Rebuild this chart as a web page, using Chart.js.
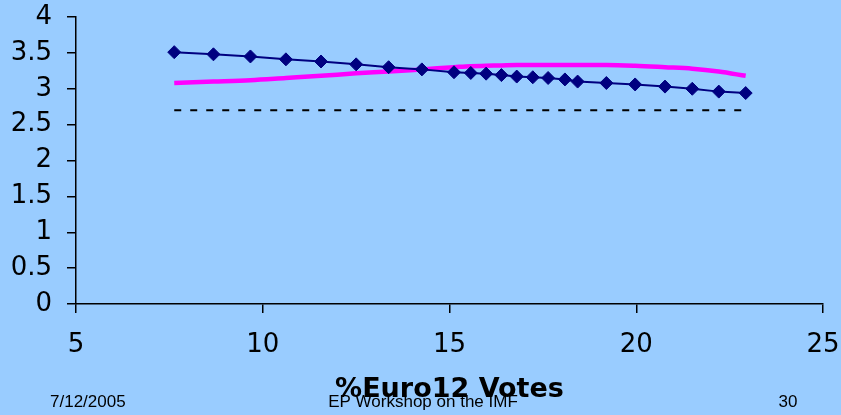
<!DOCTYPE html>
<html>
<head>
<meta charset="utf-8">
<script src="https://cdn.jsdelivr.net/npm/chart.js@4/dist/chart.umd.min.js"></script>
<style>
  html, body { margin: 0; padding: 0; background: #99ccff; }
  #wrap { position: relative; width: 841px; height: 415px; }
</style>
</head>
<body>
<div id="wrap"><canvas id="chart" width="841" height="415"></canvas></div>
<script>
// %Euro12 votes (x) and the three plotted series
const euroVotes = [7.63, 8.68, 9.67, 10.62, 11.56, 12.50, 13.37, 14.26, 15.12, 15.57, 15.98,
                   16.39, 16.80, 17.23, 17.64, 18.09, 18.43, 19.20, 19.97, 20.77, 21.50, 22.21, 22.93];
const markerSeries = [3.51, 3.48, 3.45, 3.41, 3.38, 3.34, 3.30, 3.27, 3.23, 3.22, 3.21,
                      3.19, 3.17, 3.16, 3.15, 3.13, 3.10, 3.08, 3.06, 3.03, 3.00, 2.96, 2.94];
const curveSeries = [3.08, 3.10, 3.12, 3.15, 3.18, 3.215, 3.24, 3.27, 3.30, 3.315, 3.32,
                     3.325, 3.33, 3.33, 3.33, 3.33, 3.33, 3.33, 3.32, 3.30, 3.28, 3.24, 3.18];
const flatX = [7.63, 22.93];
const flatY = [2.7, 2.7];

const xTicks = [5, 10, 15, 20, 25];
const yTicks = [0, 0.5, 1, 1.5, 2, 2.5, 3, 3.5, 4];

const axisTitle = '%Euro12 Votes';
const footerLeft = '7/12/2005';
const footerMid = 'EP Workshop on the IMF';
const footerRight = '30';

const toPoints = (xs, ys) => xs.map((x, i) => ({ x: x, y: ys[i] }));

// Axis title and slide footer drawn under the plot
const captionPlugin = {
  id: 'caption',
  afterDraw(chart) {
    const ctx = chart.ctx;
    const area = chart.chartArea;
    ctx.save();
    ctx.fillStyle = '#000';
    ctx.textBaseline = 'alphabetic';
    ctx.font = '17px "Liberation Sans", Arial, sans-serif';
    ctx.textAlign = 'left';
    ctx.fillText(footerLeft, 50, 407);
    ctx.textAlign = 'center';
    ctx.fillText(footerMid, 423, 407);
    ctx.fillText(footerRight, 788, 407);
    ctx.font = 'bold 27px "DejaVu Sans", Verdana, sans-serif';
    ctx.fillText(axisTitle, (area.left + area.right) / 2, 397);
    ctx.restore();
  }
};

const axisStyle = {
  drawOnChartArea: false,
  drawTicks: true,
  tickLength: 9,
  color: '#000',
  lineWidth: 1.5
};

new Chart(document.getElementById('chart'), {
  type: 'scatter',
  data: {
    datasets: [
      {
        data: toPoints(euroVotes, markerSeries),
        showLine: true,
        borderColor: '#000080',
        borderWidth: 2,
        backgroundColor: '#000080',
        pointStyle: 'rectRot',
        pointRadius: 6.5,
        pointBorderWidth: 1,
        pointBorderColor: '#000080',
        pointBackgroundColor: '#000080'
      },
      {
        data: toPoints(euroVotes, curveSeries),
        showLine: true,
        borderColor: '#ff00ff',
        borderWidth: 4.5,
        pointRadius: 0,
        cubicInterpolationMode: 'monotone'
      },
      {
        data: toPoints(flatX, flatY),
        showLine: true,
        borderColor: '#000',
        borderWidth: 2,
        borderDash: [7, 9],
        pointRadius: 0
      }
    ]
  },
  options: {
    responsive: false,
    animation: false,
    events: [],
    layout: { padding: { left: 0, right: 18, top: 17, bottom: 0 } },
    plugins: { legend: { display: false }, tooltip: { enabled: false } },
    scales: {
      x: {
        type: 'linear',
        min: 5, max: 25,
        afterBuildTicks(scale) { scale.ticks = xTicks.map(v => ({ value: v })); },
        afterFit(scale) {
          scale.height = 111;
          scale.paddingLeft = 0;
          scale.paddingRight = 0;
        },
        ticks: {
          color: '#000',
          padding: 17,
          autoSkip: false,
          maxRotation: 0,
          callback: v => String(v),
          font: { family: '"DejaVu Sans", Verdana, sans-serif', size: 26 }
        },
        grid: axisStyle,
        border: { display: true, color: '#000', width: 1.5 }
      },
      y: {
        type: 'linear',
        min: 0, max: 4,
        afterBuildTicks(scale) { scale.ticks = yTicks.map(v => ({ value: v })); },
        afterFit(scale) {
          scale.width = 76;
          scale.paddingTop = 0;
          scale.paddingBottom = 0;
        },
        ticks: {
          color: '#000',
          padding: 15,
          autoSkip: false,
          callback: v => String(v),
          font: { family: '"DejaVu Sans", Verdana, sans-serif', size: 26 }
        },
        grid: axisStyle,
        border: { display: true, color: '#000', width: 1.5 }
      }
    }
  },
  plugins: [captionPlugin]
});
</script>
</body>
</html>
